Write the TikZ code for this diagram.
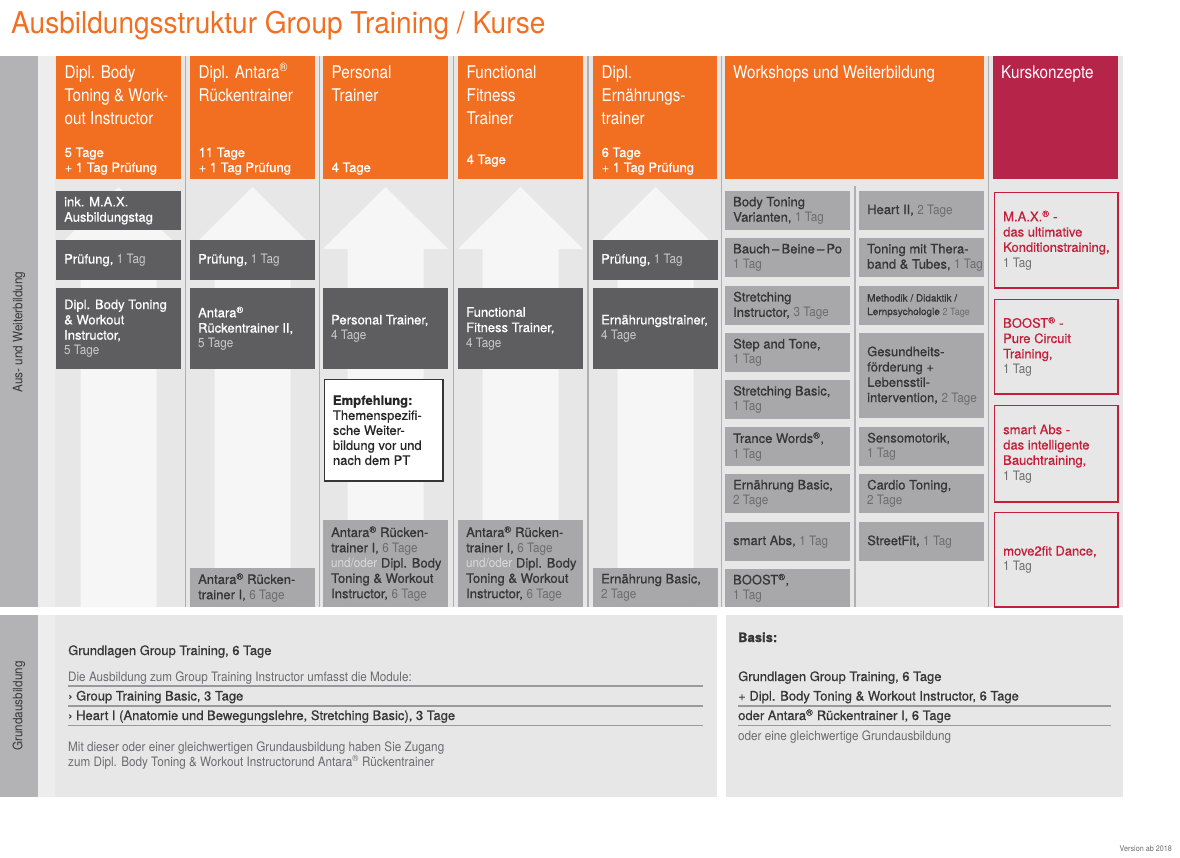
\documentclass[tikz,border=0pt]{standalone}
\usepackage{fontspec}
\setmainfont{TeX Gyre Heros}[FakeBold=0.6]
\newfontfamily\hfont{TeX Gyre Heros}[FakeStretch=0.9]
\newfontfamily\hdfont{TeX Gyre Heros}[FakeStretch=0.87]
\newfontfamily\tfont{TeX Gyre Heros}[FakeStretch=0.935]
\definecolor{orng}{HTML}{F26F21}
\definecolor{crimh}{HTML}{B7244A}
\definecolor{crim}{HTML}{C41E3A}
\definecolor{dgray}{HTML}{5E5E60}
\definecolor{mgray}{HTML}{A8A8AB}
\definecolor{bgc}{HTML}{E7E7E7}
\definecolor{arrc}{HTML}{F6F6F6}
\definecolor{lbar}{HTML}{B3B3B5}
\definecolor{stripc}{HTML}{EDEDED}
\definecolor{sepc}{HTML}{B0B0B2}
\definecolor{txtd}{HTML}{363636}
\definecolor{ldc}{HTML}{CACACC}
\definecolor{lmc}{HTML}{6C6C6F}
\definecolor{lwc}{HTML}{DADADA}
\definecolor{lkc}{HTML}{6E6E6E}
\definecolor{lnc}{HTML}{9A9A9C}
\newcommand\bodyfont{\fontsize{13}{15.3}\selectfont}
\newcommand\ld[1]{{\hfont\color{ldc}#1}}
\newcommand\lm[1]{{\hfont\color{lmc}#1}}
\newcommand\lw[1]{{\hfont\color{lwc}#1}}
\newcommand\lk[1]{{\hfont\color{lkc}#1}}
\newcommand\reg{\textsuperscript{®}}
\newcommand\dbx[5]{\node[dbox,minimum height=#4pt] (#1) at (#2,#3) {};\node[dtxt] (#1t) at ([xshift=8pt]#1.west) {#5};}
\newcommand\mbx[5]{\node[mbox,minimum height=#4pt] (#1) at (#2,#3) {};\node[mtxt] (#1t) at ([xshift=8pt]#1.west) {#5};}
\newcommand\kbx[4]{\node[kbox,minimum height=#3pt] (#1) at (993.8,#2) {};\node[ktxt] (#1t) at ([xshift=9.2pt]#1.west) {#4};}
\newcommand\arrw[1]{\fill[arrc] ({#1+62.5},187) -- ({#1+125},249) -- ({#1+100.5},249) -- ({#1+100.5},607) -- ({#1+24.5},607) -- ({#1+24.5},249) -- (#1,249) -- cycle;}
\begin{document}
\begin{tikzpicture}[x=1pt,y=-1pt,
  hbox/.style={fill=orng,anchor=north west,minimum height=123pt,inner sep=0pt},
  htx/.style={anchor=base west,inner sep=0pt,text=white,font=\hdfont\fontsize{17.5}{23}\selectfont},
  hsub/.style={anchor=base west,inner sep=0pt,text=white,font=\bodyfont},
  dbox/.style={fill=dgray,anchor=north west,minimum width=125pt,inner sep=0pt},
  mbox/.style={fill=mgray,anchor=north west,minimum width=125pt,inner sep=0pt},
  kbox/.style={fill=bgc,draw=crim,line width=1.6pt,anchor=north west,minimum width=123.4pt,inner sep=0pt},
  dtxt/.style={anchor=west,inner sep=0pt,align=left,text=white,font=\bodyfont},
  mtxt/.style={anchor=west,inner sep=0pt,align=left,text=txtd,font=\bodyfont},
  ktxt/.style={anchor=west,inner sep=0pt,align=left,text=crim,font=\bodyfont},
  sepl/.style={draw=sepc,line width=1.3pt},
  bline/.style={draw=lnc,line width=1.1pt},
  btx/.style={anchor=base west,inner sep=0pt,text=txtd,font=\bodyfont},
  blt/.style={anchor=base west,inner sep=0pt,text=lmc,font=\hfont\fontsize{13}{15}\selectfont},
]
\useasboundingbox (0,0) rectangle (1180,857);
\fill[white] (0,0) rectangle (1180,857);
% title
\node[anchor=base west,inner sep=0pt,text=orng,font=\tfont\fontsize{30}{34}\selectfont] (title) at (11,33) {Ausbildungsstruktur Group Training / Kurse};
% top section background
\fill[lbar] (0,56) rectangle (38,607);
\fill[bgc] (38,56) rectangle (1123,607);
\fill[stripc] (38,56) rectangle (55,607);
\node[rotate=90,inner sep=0pt,text=txtd,font=\hfont\bodyfont] (lab1) at (19,332) {Aus- und Weiterbildung};
% arrows
\arrw{56}
\arrw{190}
\arrw{323}
\arrw{458}
\arrw{593}
% separators
\draw[sepl] (185.5,56) -- (185.5,607);
\draw[sepl] (319.5,56) -- (319.5,607);
\draw[sepl] (453.5,56) -- (453.5,607);
\draw[sepl] (588,56) -- (588,607);
\draw[sepl] (721.5,56) -- (721.5,607);
\draw[sepl] (988.5,56) -- (988.5,607);
\draw[sepl] (855,186) -- (855,607);
% headers
\node[hbox,minimum width=125pt] (h1) at (56,56) {};
\node[hbox,minimum width=125pt] (h2) at (190,56) {};
\node[hbox,minimum width=125pt] (h3) at (323,56) {};
\node[hbox,minimum width=125pt] (h4) at (458,56) {};
\node[hbox,minimum width=124pt] (h5) at (593,56) {};
\node[hbox,minimum width=259pt] (h6) at (725,56) {};
\node[hbox,fill=crimh,minimum width=125pt] (h7) at (993,56) {};
\node[htx] (h1a) at (64.5,78) {Dipl. Body};
\node[htx] (h1b) at (64.5,101) {Toning \& Work-};
\node[htx] (h1c) at (64.5,124) {out Instructor};
\node[hsub] (h1d) at (64.5,157) {5 Tage};
\node[hsub] (h1e) at (64.5,172) {+ 1 Tag Prüfung};
\node[htx] (h2a) at (198.5,78) {Dipl. Antara\reg};
\node[htx] (h2b) at (198.5,101) {Rückentrainer};
\node[hsub] (h2d) at (198.5,157) {11 Tage};
\node[hsub] (h2e) at (198.5,172) {+ 1 Tag Prüfung};
\node[htx] (h3a) at (331.5,78) {Personal};
\node[htx] (h3b) at (331.5,101) {Trainer};
\node[hsub] (h3d) at (331.5,172) {4 Tage};
\node[htx] (h4a) at (466.5,78) {Functional};
\node[htx] (h4b) at (466.5,101) {Fitness};
\node[htx] (h4c) at (466.5,124) {Trainer};
\node[hsub] (h4d) at (466.5,164) {4 Tage};
\node[htx] (h5a) at (601.5,78) {Dipl.};
\node[htx] (h5b) at (601.5,101) {Ernährungs-};
\node[htx] (h5c) at (601.5,124) {trainer};
\node[hsub] (h5d) at (601.5,157) {6 Tage};
\node[hsub] (h5e) at (601.5,172) {+ 1 Tag Prüfung};
\node[htx] (h6a) at (733,78) {Workshops und Weiterbildung};
\node[htx] (h7a) at (1001,78) {Kurskonzepte};
% column 1
\dbx{d1a}{56}{191}{39}{ink. M.A.X.\\Ausbildungstag}
\dbx{d1b}{56}{240}{40}{Prüfung, \ld{1 Tag}}
\dbx{d1c}{56}{288}{81}{Dipl. Body Toning\\\& Workout\\Instructor,\\\ld{5 Tage}}
% column 2
\dbx{d2b}{190}{240}{40}{Prüfung, \ld{1 Tag}}
\dbx{d2c}{190}{288}{81}{Antara\reg\\Rückentrainer II,\\\ld{5 Tage}}
\mbx{m2}{190}{568}{39}{Antara\reg{} Rücken-\\trainer I, \lm{6 Tage}}
% column 3
\dbx{d3c}{323}{288}{81}{Personal Trainer,\\\ld{4 Tage}}
\node[fill=white,draw=txtd,line width=1.5pt,anchor=north west,minimum width=118.5pt,minimum height=101.5pt,inner sep=0pt] (emp) at (323.75,378.75) {};
\node[anchor=west,inner sep=0pt,align=left,text=black!85,font=\fontsize{13}{15}\selectfont] (empt) at ([xshift=9pt]emp.west) {\textbf{Empfehlung:}\\Themenspezifi-\\sche Weiter-\\bildung vor und\\nach dem PT};
\mbx{m3}{323}{520}{87}{Antara\reg{} Rücken-\\trainer I, \lm{6 Tage}\\\lw{und/oder} Dipl. Body\\Toning \& Workout\\Instructor, \lm{6 Tage}}
% column 4
\dbx{d4c}{458}{288}{81}{Functional\\Fitness Trainer,\\\ld{4 Tage}}
\mbx{m4}{458}{520}{87}{Antara\reg{} Rücken-\\trainer I, \lm{6 Tage}\\\lw{und/oder} Dipl. Body\\Toning \& Workout\\Instructor, \lm{6 Tage}}
% column 5
\dbx{d5b}{593}{240}{40}{Prüfung, \ld{1 Tag}}
\dbx{d5c}{593}{288}{81}{Ernährungstrainer,\\\ld{4 Tage}}
\mbx{m5}{593}{568}{39}{Ernährung Basic,\\\lm{2 Tage}}
% workshops left
\mbx{w1}{725}{191}{39}{Body Toning\\Varianten, \lm{1 Tag}}
\mbx{w2}{725}{238}{39}{Bauch\,–\,Beine\,–\,Po\\\lm{1 Tag}}
\mbx{w3}{725}{286}{39}{Stretching\\Instructor, \lm{3 Tage}}
\mbx{w4}{725}{333}{39}{Step and Tone,\\\lm{1 Tag}}
\mbx{w5}{725}{380}{39}{Stretching Basic,\\\lm{1 Tag}}
\mbx{w6}{725}{427}{39}{Trance Words\reg,\\\lm{1 Tag}}
\mbx{w7}{725}{474}{39}{Ernährung Basic,\\\lm{2 Tage}}
\mbx{w8}{725}{522}{39}{smart Abs, \lm{1 Tag}}
\mbx{w9}{725}{569}{38}{BOOST\reg,\\\lm{1 Tag}}
% workshops right
\mbx{v1}{859}{191}{39}{Heart II, \lm{2 Tage}}
\mbx{v2}{859}{238}{39}{Toning mit Thera-\\band \& Tubes, \lm{1 Tag}}
\node[mbox,minimum height=39pt] (v3) at (859,286) {};
\node[mtxt,font=\fontsize{10}{13.5}\selectfont] (v3t) at ([xshift=8pt]v3.west) {Methodik / Didaktik /\\Lernpsychologie \lm{2 Tage}};
\mbx{v4}{859}{333}{85}{Gesundheits-\\förderung +\\Lebensstil-\\intervention, \lm{2 Tage}}
\mbx{v5}{859}{427}{39}{Sensomotorik,\\\lm{1 Tag}}
\mbx{v6}{859}{474}{39}{Cardio Toning,\\\lm{2 Tage}}
\mbx{v7}{859}{522}{39}{StreetFit, \lm{1 Tag}}
% Kurskonzepte
\kbx{k1}{191.8}{95.4}{M.A.X.\reg{} -\\das ultimative\\Konditionstraining,\\\lk{1 Tag}}
\kbx{k2}{298.8}{94.4}{BOOST\reg{} -\\Pure Circuit\\Training,\\\lk{1 Tag}}
\kbx{k3}{404.8}{96.4}{smart Abs -\\das intelligente\\Bauchtraining,\\\lk{1 Tag}}
\kbx{k4}{511.8}{94.4}{move2fit Dance,\\\lk{1 Tag}}
% bottom section
\fill[lbar] (0,615) rectangle (38,797);
\fill[stripc] (38,615) rectangle (55,797);
\fill[bgc] (55,615) rectangle (717,797);
\fill[bgc] (726,615) rectangle (1123,797);
\node[rotate=90,inner sep=0pt,text=txtd,font=\hfont\bodyfont] (lab2) at (19,706) {Grundausbildung};
\node[btx] (g1) at (68,655) {Grundlagen Group Training, 6 Tage};
\node[blt] (g2) at (68,681) {Die Ausbildung zum Group Training Instructor umfasst die Module:};
\draw[bline] (68,686) -- (703,686);
\node[btx] (g3) at (68,700.5) {›\ Group Training Basic, 3 Tage};
\draw[bline] (68,706) -- (703,706);
\node[btx] (g4) at (68,720) {›\ Heart I (Anatomie und Bewegungslehre, Stretching Basic), 3 Tage};
\draw[bline] (68,725.5) -- (703,725.5);
\node[blt] (g5) at (68,751) {Mit dieser oder einer gleichwertigen Grundausbildung haben Sie Zugang};
\node[blt] (g6) at (68,766) {zum Dipl. Body Toning \& Workout Instructorund Antara\reg{} Rückentrainer};
\node[btx,font=\bfseries\fontsize{13}{15}\selectfont] (b1) at (738,642) {Basis:};
\node[btx] (b2) at (738,681) {Grundlagen Group Training, 6 Tage};
\node[btx] (b3) at (738,700.5) {+ Dipl. Body Toning \& Workout Instructor, 6 Tage};
\draw[bline] (738,706) -- (1111,706);
\node[btx] (b4) at (738,720) {oder Antara\reg{} Rückentrainer I, 6 Tage};
\draw[bline] (738,725.5) -- (1111,725.5);
\node[blt] (b5) at (738,740) {oder eine gleichwertige Grundausbildung};
\node[anchor=base east,inner sep=0pt,text=lmc,font=\hfont\fontsize{8}{9}\selectfont] (ver) at (1172,851) {Version ab 2018};
\end{tikzpicture}
\end{document}
